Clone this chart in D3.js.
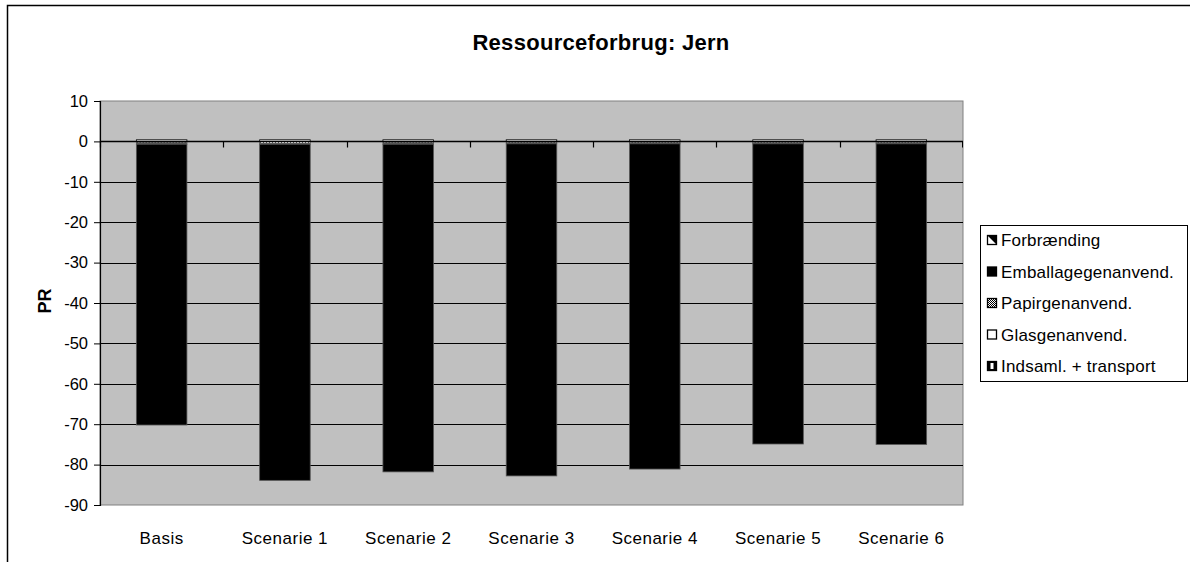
<!DOCTYPE html>
<html>
<head>
<meta charset="utf-8">
<script src="https://cdn.jsdelivr.net/npm/d3@7"></script>
<style>
  body { margin: 0; background: #fff; }
  text { font-family: Arial, "Liberation Sans", sans-serif; }
</style>
</head>
<body>
<svg id="chart" width="1190" height="562"></svg>
<script>
const categories = ["Basis", "Scenarie 1", "Scenarie 2", "Scenarie 3", "Scenarie 4", "Scenarie 5", "Scenarie 6"];
const seriesNames = ["Forbrænding", "Emballagegenanvend.", "Papirgenanvend.", "Glasgenanvend.", "Indsaml. + transport"];
const forbraending = [-0.7, 0, -0.7, -0.6, -0.6, -0.6, -0.6];
const emballage = [-69.5, -83.2, -81.1, -82.2, -80.5, -74.3, -74.4];
const papir = [0, 0, 0, 0, 0, 0, 0];
const glas = [0, -0.7, 0, 0, 0, 0, 0];
const indsaml = [0.4, 0.4, 0.4, 0.4, 0.4, 0.4, 0.4];
const yTicks = [10, 0, -10, -20, -30, -40, -50, -60, -70, -80, -90];

const svg = d3.select("#chart");
const margin = { left: 100, top: 101, right: 963, bottom: 505 };

// patterns
const defs = svg.append("defs");
const pDots = defs.append("pattern").attr("id", "dots").attr("width", 3).attr("height", 3)
  .attr("patternUnits", "userSpaceOnUse");
pDots.append("rect").attr("width", 3).attr("height", 3).attr("fill", "#555");
pDots.append("rect").attr("width", 1.5).attr("height", 1.5).attr("fill", "#bbb");
const pWhiteDots = defs.append("pattern").attr("id", "wdots").attr("width", 3).attr("height", 3)
  .attr("patternUnits", "userSpaceOnUse");
pWhiteDots.append("rect").attr("width", 3).attr("height", 3).attr("fill", "#666");
pWhiteDots.append("rect").attr("width", 2).attr("height", 2).attr("fill", "#fff");
const pChecker = defs.append("pattern").attr("id", "checker").attr("width", 2).attr("height", 2)
  .attr("patternUnits", "userSpaceOnUse");
pChecker.append("rect").attr("width", 2).attr("height", 2).attr("fill", "#fff");
pChecker.append("rect").attr("width", 1).attr("height", 1).attr("fill", "#000");
pChecker.append("rect").attr("x", 1).attr("y", 1).attr("width", 1).attr("height", 1).attr("fill", "#000");

const fills = ["url(#dots)", "#000", "url(#checker)", "url(#wdots)", "#fff"];
// order in which negative parts are stacked downward from zero
const negOrder = [3, 2, 0, 1];

// outer frame
svg.append("path").attr("d", "M7.5,562V5.5H1190").attr("fill", "none").attr("stroke", "#000").attr("stroke-width", 1.5);

const x = d3.scaleBand().domain(categories).range([margin.left, margin.right]).paddingInner(0.59).paddingOuter(0.295);
const xb = d3.scaleBand().domain(categories).range([margin.left, margin.right]);
const y = d3.scaleLinear().domain([-90, 10]).range([margin.bottom, margin.top]);

// plot area
svg.append("rect").attr("x", margin.left).attr("y", margin.top)
  .attr("width", margin.right - margin.left).attr("height", margin.bottom - margin.top)
  .attr("fill", "#c0c0c0").attr("stroke", "#808080").attr("stroke-width", 1);

// gridlines
svg.append("g").selectAll("line").data(yTicks.filter(d => d > -90 && d < 10)).join("line")
  .attr("x1", margin.left).attr("x2", margin.right)
  .attr("y1", d => Math.round(y(d)) + 0.5).attr("y2", d => Math.round(y(d)) + 0.5)
  .attr("stroke", "#000").attr("stroke-width", 1);

// stacks
const rows = categories.map((c, i) => ({
  cat: c, vals: [forbraending[i], emballage[i], papir[i], glas[i], indsaml[i]]
}));
const segs = [];
rows.forEach(r => {
  let pos = 0, neg = 0;
  r.vals.forEach((v, k) => {
    if (v > 0) { segs.push({ cat: r.cat, k, y0: pos, y1: pos + v }); pos += v; }
  });
  negOrder.forEach(k => {
    const v = r.vals[k];
    if (v < 0) { segs.push({ cat: r.cat, k, y0: neg + v, y1: neg }); neg += v; }
  });
});
svg.append("g").selectAll("rect").data(segs).join("rect")
  .attr("x", d => x(d.cat)).attr("width", x.bandwidth())
  .attr("y", d => y(d.y1)).attr("height", d => Math.max(1, y(d.y0) - y(d.y1)))
  .attr("fill", d => fills[d.k])
  .attr("stroke", d => d.k === 4 ? "#000" : "#555").attr("stroke-width", 0.8);

// x axis at zero
const zeroY = Math.round(y(0)) + 0.5;
svg.append("line").attr("x1", margin.left).attr("x2", margin.right)
  .attr("y1", zeroY).attr("y2", zeroY).attr("stroke", "#000").attr("stroke-width", 1.5);
svg.append("g").selectAll("line").data(categories).join("line")
  .attr("x1", d => Math.round(xb(d)) + 0.5).attr("x2", d => Math.round(xb(d)) + 0.5)
  .attr("y1", zeroY).attr("y2", zeroY + 6).attr("stroke", "#000").attr("stroke-width", 1.2);
svg.append("line").attr("x1", margin.right - 0.5).attr("x2", margin.right - 0.5)
  .attr("y1", zeroY).attr("y2", zeroY + 6).attr("stroke", "#000");

// y axis
const yAxis = svg.append("g").attr("transform", `translate(${margin.left},0)`)
  .call(d3.axisLeft(y).tickValues(yTicks).tickSize(6).tickPadding(6).tickFormat(d => String(d)));
yAxis.select(".domain").attr("stroke", "#000").attr("stroke-width", 1.2);
yAxis.selectAll("text").attr("font-size", 16.5).attr("fill", "#000").attr("font-family", "Arial, 'Liberation Sans', sans-serif");

// category labels
svg.append("g").selectAll("text").data(categories).join("text")
  .attr("x", d => xb(d) + xb.bandwidth() / 2).attr("y", 544)
  .attr("text-anchor", "middle").attr("font-size", 17).attr("letter-spacing", 0.5).text(d => d);

// title
svg.append("text").attr("x", 601).attr("y", 50).attr("text-anchor", "middle")
  .attr("font-size", 22).attr("font-weight", "bold").attr("letter-spacing", 0.3).text("Ressourceforbrug: Jern");

// y label
svg.append("text").attr("transform", "translate(51,301) rotate(-90)")
  .attr("text-anchor", "middle").attr("font-size", 18).attr("font-weight", "bold").text("PR");

// legend
const lg = svg.append("g");
lg.append("rect").attr("x", 980.5).attr("y", 225.5).attr("width", 207).attr("height", 156)
  .attr("fill", "#fff").attr("stroke", "#000").attr("stroke-width", 1);
const items = lg.selectAll("g").data(seriesNames).join("g")
  .attr("transform", (d, i) => `translate(987,${240 + i * 31.5})`);
items.append("rect").attr("x", 0.5).attr("y", -4.5).attr("width", 9).attr("height", 9)
  .attr("fill", "#fff").attr("stroke", "#000").attr("stroke-width", 1.3);
items.filter((d, i) => i === 0).append("path").attr("d", "M1,-4H9.5V4.5Z").attr("fill", "#000");
items.filter((d, i) => i === 1).select("rect").attr("fill", "#000");
items.filter((d, i) => i === 2).select("rect").attr("fill", "url(#checker)");
items.filter((d, i) => i === 4).append("rect").attr("x", 3).attr("y", -4).attr("width", 4).attr("height", 8).attr("fill", "#000");
items.filter((d, i) => i === 4).select("rect").attr("fill", "#000");
items.filter((d, i) => i === 4).append("rect").attr("x", 3.5).attr("y", -3).attr("width", 3).attr("height", 6).attr("fill", "#fff");
items.append("text").attr("x", 14).attr("y", 6).attr("font-size", 17).attr("letter-spacing", 0.2).text(d => d);
</script>
</body>
</html>
